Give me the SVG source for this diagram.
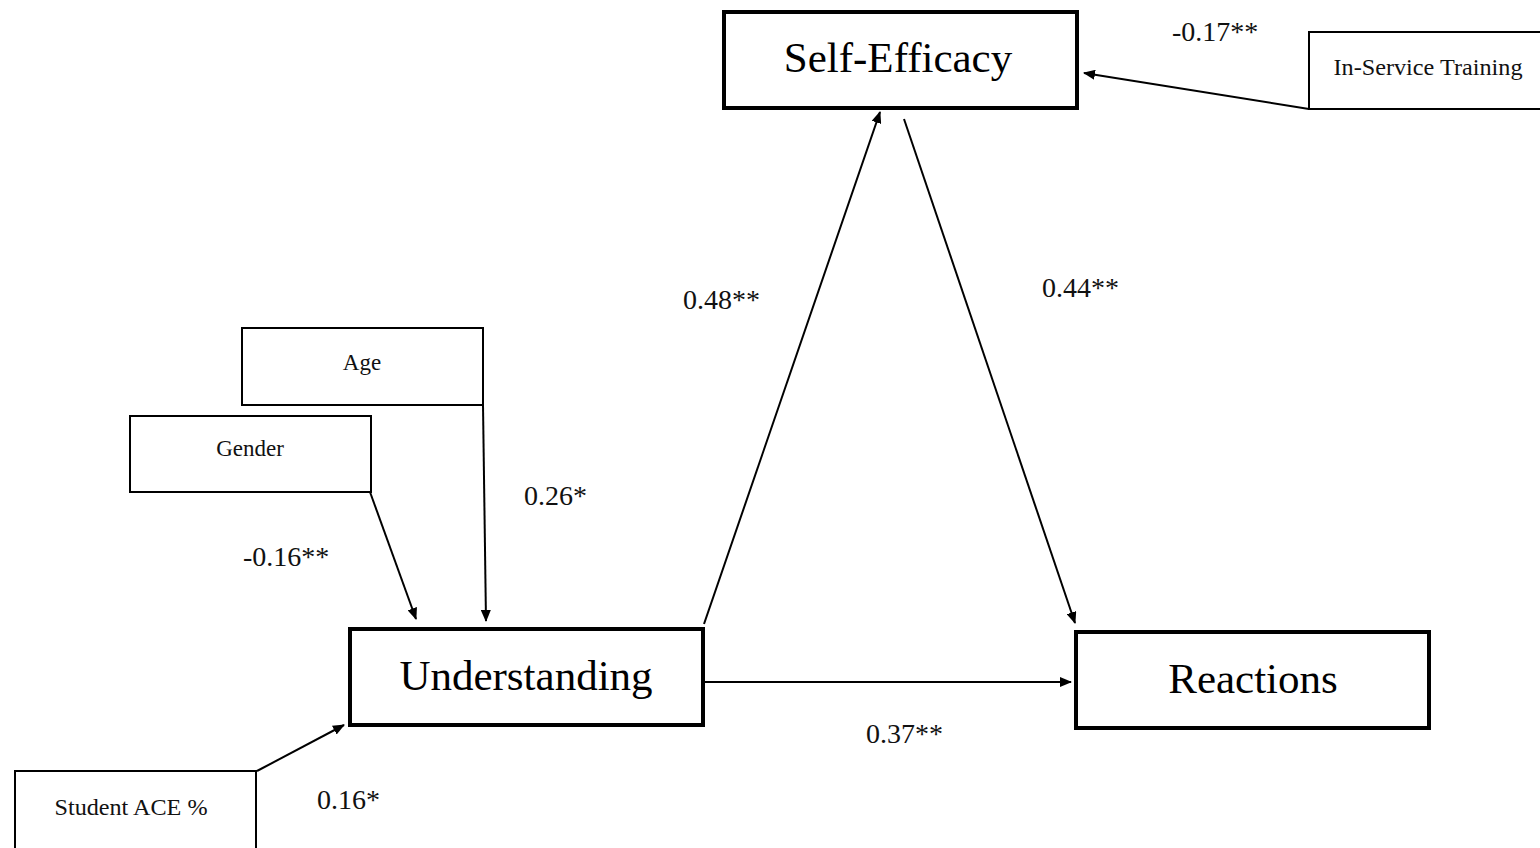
<svg xmlns="http://www.w3.org/2000/svg" width="1540" height="848" viewBox="0 0 1540 848">
  <style>
    .bg { fill: #ffffff; }
    .main rect { fill: #ffffff; stroke: #000000; stroke-width: 4; }
    .cov rect { fill: #ffffff; stroke: #000000; stroke-width: 2; }
    .main text { font-family: "Liberation Serif", "Times New Roman", serif; font-size: 43px; fill: #000000; text-anchor: middle; }
    .cov text { font-family: "Liberation Serif", "Times New Roman", serif; font-size: 23px; fill: #111111; text-anchor: middle; }
    .lbl { font-family: "Liberation Serif", "Times New Roman", serif; font-size: 28px; fill: #111111; }
    #connectors line { stroke: #000000; stroke-width: 2; fill: none; marker-end: url(#arrow); }
  </style>
  <defs>
    <marker id="arrow" viewBox="0 0 12 10" refX="11" refY="5" markerWidth="12" markerHeight="10" markerUnits="userSpaceOnUse" orient="auto">
      <path d="M0,0 L12,5 L0,10 Z" fill="#000000"/>
    </marker>
  </defs>

  <rect class="bg" x="0" y="0" width="1540" height="848"/>

  <!-- main constructs -->
  <g id="self-efficacy" class="main">
    <rect x="724" y="12" width="353" height="96"/>
    <text x="898" y="72">Self-Efficacy</text>
  </g>
  <g id="understanding" class="main">
    <rect x="350" y="629" width="353" height="96"/>
    <text x="526" y="690">Understanding</text>
  </g>
  <g id="reactions" class="main">
    <rect x="1076" y="632" width="353" height="96"/>
    <text x="1253" y="693">Reactions</text>
  </g>

  <!-- covariates -->
  <g id="in-service-training" class="cov">
    <rect x="1309" y="32" width="240" height="77"/>
    <text x="1428" y="75" textLength="189" lengthAdjust="spacingAndGlyphs">In-Service Training</text>
  </g>
  <g id="age" class="cov">
    <rect x="242" y="328" width="241" height="77"/>
    <text x="362" y="370">Age</text>
  </g>
  <g id="gender" class="cov">
    <rect x="130" y="416" width="241" height="76"/>
    <text x="250" y="456">Gender</text>
  </g>
  <g id="student-ace" class="cov">
    <rect x="15" y="771" width="241" height="90"/>
    <text x="131" y="815" textLength="153" lengthAdjust="spacingAndGlyphs">Student ACE %</text>
  </g>

  <!-- paths -->
  <g id="connectors">
    <line x1="1309" y1="109" x2="1084" y2="73"/>
    <line x1="704" y1="624" x2="880" y2="112"/>
    <line x1="904" y1="119" x2="1075" y2="623"/>
    <line x1="705" y1="682" x2="1071" y2="682"/>
    <line x1="370" y1="492" x2="416" y2="619"/>
    <line x1="483" y1="405" x2="486" y2="621"/>
    <line x1="257" y1="771" x2="344" y2="725"/>
  </g>

  <!-- path coefficients -->
  <g id="coefficients">
    <text class="lbl" x="1172" y="41">-0.17**</text>
    <text class="lbl" x="683" y="309">0.48**</text>
    <text class="lbl" x="1042" y="297">0.44**</text>
    <text class="lbl" x="524" y="505">0.26*</text>
    <text class="lbl" x="243" y="566">-0.16**</text>
    <text class="lbl" x="866" y="743">0.37**</text>
    <text class="lbl" x="317" y="809">0.16*</text>
  </g>
</svg>
